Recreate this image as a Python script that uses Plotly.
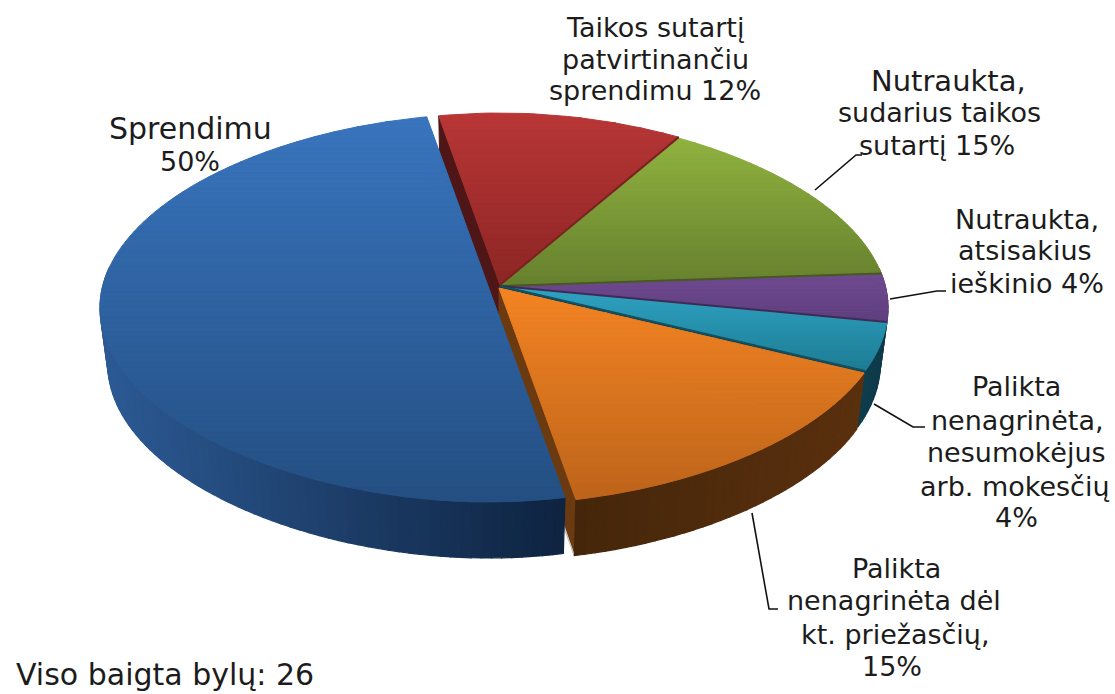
import math
import plotly.graph_objects as go

# ---- data ----
categories = ["Taikos sutartį patvirtinančiu sprendimu", "Nutraukta, sudarius taikos sutartį",
              "Nutraukta, atsisakius ieškinio", "Palikta nenagrinėta, nesumokėjus arb. mokesčių",
              "Palikta nenagrinėta dėl kt. priežasčių", "Sprendimu"]
values = [12, 15, 4, 4, 15, 50]
footer = "Viso baigta bylų: 26"

# ---- styles ----
top_light = ["#b93636", "#90b23f", "#70498f", "#2fa3c3", "#f48423", "#3874bd"]
top_dark = ["#8c2624", "#66802e", "#5e3e7f", "#1d7c94", "#bd641a", "#244f82"]
wall_left = ["#4e1616", "#4f6423", "#46305f", "#0e3d4c", "#45260a", "#2c5a94"]
wall_right = ["#4e1616", "#4f6423", "#46305f", "#0e3a49", "#5a300e", "#0e2340"]
edge_dark = ["#7a2222", "#47591f", "#3e2a55", "#124f60", None, None]
inner_wall = ["#4e1616", None, None, "#0e3d4c", "#6b3a10", None]
offsets = [(0, 0), (0, 1), (0, 1), (0, 1), (-1, 3), (-12, 1)]

CX, CY, RX, RY = 500, 307, 388, 194
TIP_Y = 285
START = -11.0
DEPTH = 56
SHRINK = 0.98
WARP = 0.09
A = (CY - TIP_Y) / RY
TEXT_COLOR = "#1c1c1c"
FONT = "DejaVu Sans"

label_lines = [
    ("Taikos sutartį", 655, 27, 27), ("patvirtinančiu", 655, 59, 27), ("sprendimu 12%", 655, 90, 27),
    ("Nutraukta,", 948, 81, 29), ("sudarius taikos", 939, 112, 27), ("sutartį 15%", 937, 145, 27),
    ("Nutraukta,", 1027, 219, 27), ("atsisakius", 1025, 250, 27), ("ieškinio 4%", 1027, 283, 27),
    ("Palikta", 1016, 386, 27), ("nenagrinėta,", 1017, 420, 27), ("nesumokėjus", 1016, 452, 27),
    ("arb. mokesčių", 1015, 486, 27), ("4%", 1016, 517, 27),
    ("Palikta", 896, 568, 27), ("nenagrinėta dėl", 894, 600, 27), ("kt. priežasčių,", 895, 634, 27), ("15%", 892, 666, 27),
    ("Sprendimu", 190, 128, 30), ("50%", 190, 161, 27),
]
leaders = [
    ([815, 856, 862], [190, 155, 155]),
    ([890, 937, 946], [299, 291, 291]),
    ([874, 913, 925], [404, 427, 427]),
    ([752, 769, 778], [513, 609, 609]),
]


def top(theta, off=(0, 0)):
    t = math.radians(theta)
    u, v = math.sin(t), math.cos(t)
    d = 1 + A * v
    x = u * math.sqrt(1 - A * A) / d
    y = (v + A) / d
    x *= 1 - WARP * (1 - abs(x))
    return CX + RX * x + off[0], CY - RY * y + off[1]


def bottom(theta, off=(0, 0)):
    x, y = top(theta)
    return CX + (x - CX) * SHRINK + off[0], y + DEPTH + off[1]


def mix(c1, c2, f):
    a = [int(c1[i:i + 2], 16) for i in (1, 3, 5)]
    b = [int(c2[i:i + 2], 16) for i in (1, 3, 5)]
    return "rgb(%d,%d,%d)" % tuple(round(p + (q - p) * f) for p, q in zip(a, b))


def poly(fig, pts, color, lw=1.0):
    fig.add_trace(go.Scatter(x=[p[0] for p in pts] + [pts[0][0]], y=[p[1] for p in pts] + [pts[0][1]],
                             mode="lines", fill="toself", fillcolor=color,
                             line=dict(color=color, width=lw), hoverinfo="skip", showlegend=False))


def clip(pts, y0, keep_below):
    out = []
    n = len(pts)
    for i in range(n):
        p, q = pts[i], pts[(i + 1) % n]
        ip = p[1] >= y0 if keep_below else p[1] <= y0
        iq = q[1] >= y0 if keep_below else q[1] <= y0
        if ip:
            out.append(p)
        if ip != iq:
            f = (y0 - p[1]) / (q[1] - p[1])
            out.append((p[0] + (q[0] - p[0]) * f, y0))
    return out


# slice boundaries in degrees, from the values
bounds = [START]
for val in values:
    bounds.append(bounds[-1] + val / sum(values) * 360)


def arc(i, fn=top, off=(0, 0)):
    a0, a1 = bounds[i], bounds[i + 1]
    n = max(8, int((a1 - a0) / 1.5))
    return [fn(a0 + (a1 - a0) * k / n, off) for k in range(n + 1)]


def draw_wall(fig, i):
    a0, a1 = bounds[i], bounds[i + 1]
    n = max(3, int((a1 - a0) / 1.5))
    off = offsets[i]
    segs = []
    for k in range(n):
        b0 = a0 + (a1 - a0) * k / n
        b1 = a0 + (a1 - a0) * (k + 1) / n
        if math.cos(math.radians((b0 + b1) / 2)) > 0.1:  # only the front of the rim shows
            continue
        segs.append((b0, b1))
    if not segs:
        return
    xs = [top(b, off)[0] for s in segs for b in s]
    x0, x1 = min(xs), max(xs)
    for b0, b1 in segs:
        xm = (top(b0, off)[0] + top(b1, off)[0]) / 2
        f = (xm - x0) / max(x1 - x0, 1)
        poly(fig, [top(b0, off), top(b1, off), bottom(b1, off), bottom(b0, off)],
             mix(wall_left[i], wall_right[i], f), lw=1.2)


def draw_top(fig, i):
    off = offsets[i]
    pts = [(CX + off[0], TIP_Y + off[1])] + arc(i, top, off)
    ys = [p[1] for p in pts]
    y0, y1 = min(ys), max(ys)
    n = max(6, int((y1 - y0) / 5))
    for k in range(n):
        a = y0 + (y1 - y0) * k / n
        b = y0 + (y1 - y0) * (k + 1) / n
        part = clip(clip(pts, a, True), b, False)
        if len(part) >= 3:
            poly(fig, part, mix(top_light[i], top_dark[i], (k + 0.5) / n))


def draw_inner(fig, i, theta):
    off = offsets[i]
    t = top(theta, off)
    b = bottom(theta, off)
    tip = (CX + off[0], TIP_Y + off[1])
    poly(fig, [tip, t, b, (tip[0], tip[1] + DEPTH)], inner_wall[i])


fig = go.Figure()

for i in [0, 1, 2, 3]:
    draw_wall(fig, i)
draw_inner(fig, 0, bounds[0])
draw_inner(fig, 3, bounds[4])
draw_inner(fig, 4, bounds[5])
# grey shadow in the gap between the two front walls
gap_a = bottom(bounds[6], offsets[5])
gap_b = bottom(bounds[5], offsets[4])
poly(fig, [(gap_a[0], gap_a[1] - 40), gap_b, gap_a], "#c6c6c6")
draw_wall(fig, 5)
draw_wall(fig, 4)
for i in [0, 1, 2, 3, 5, 4]:
    draw_top(fig, i)
for i in [0, 1, 2, 3]:
    off = offsets[i]
    e = top(bounds[i + 1], off)
    fig.add_trace(go.Scatter(x=[CX + off[0], e[0]], y=[TIP_Y + off[1], e[1]], mode="lines",
                             line=dict(color=edge_dark[i], width=2), hoverinfo="skip", showlegend=False))

for lx, ly in leaders:
    fig.add_trace(go.Scatter(x=lx, y=ly, mode="lines", line=dict(color="#111111", width=1.6),
                             hoverinfo="skip", showlegend=False))

for text, x, y, size in label_lines:
    fig.add_annotation(x=x, y=y, text=text, showarrow=False, xanchor="center", yanchor="middle",
                       font=dict(family=FONT, size=size, color=TEXT_COLOR))
fig.add_annotation(x=14, y=674, text=footer, showarrow=False, xanchor="left", yanchor="middle",
                   font=dict(family=FONT, size=30, color=TEXT_COLOR))

fig.update_layout(width=1115, height=694, margin=dict(l=0, r=0, t=0, b=0),
                  paper_bgcolor="white", plot_bgcolor="white", showlegend=False,
                  xaxis=dict(range=[0, 1115], visible=False, fixedrange=True),
                  yaxis=dict(range=[694, 0], visible=False, fixedrange=True))
fig.write_html("out.html", config={"displayModeBar": False},
               post_script="document.body.style.margin='0';document.body.style.overflow='hidden';")
